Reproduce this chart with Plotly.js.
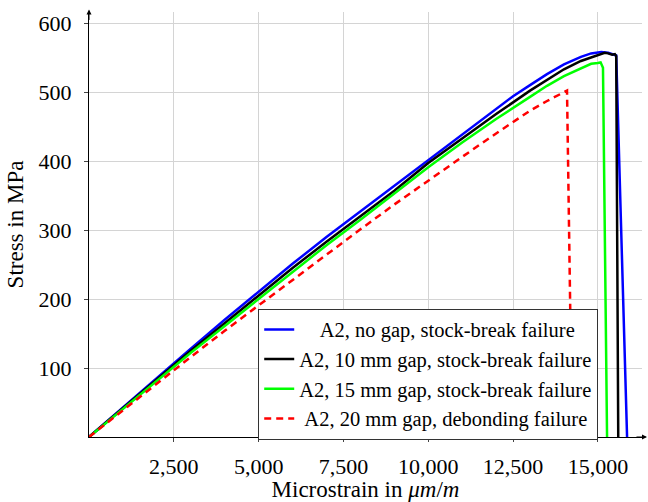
<!DOCTYPE html>
<html>
<head>
<meta charset="utf-8">
<script src="https://cdn.plot.ly/plotly-3.0.1.min.js"></script>
<style>html,body{margin:0;padding:0;background:#fff;}#chart{width:648px;height:502px;}</style>
</head>
<body>
<div id="chart"></div>
<script>
// Microstrain (µm/m) and stress (MPa)
const strainNoGap   = [0, 1000, 2000, 3000, 4000, 5000, 6000, 7000, 8000, 9000, 10000, 11000, 12000, 12500, 13000, 13500, 14000, 14500, 14800, 15100, 15300, 15540, 15860];
const stressNoGap   = [0, 43, 86, 128, 170, 211, 251, 290, 327, 364, 402, 438, 475, 494, 510, 526, 540, 551, 556, 558, 557, 553, 0];

const strain10mm    = [0, 1000, 2000, 3000, 4000, 5000, 6000, 7000, 8000, 9000, 10000, 11000, 12000, 13000, 13500, 14000, 14500, 15000, 15200, 15300, 15420, 15500, 15540, 15600];
const stress10mm    = [0, 42, 84, 125, 165, 205, 245, 283, 320, 357, 397, 433, 468, 502, 518, 533, 545, 554, 557, 556, 554, 555, 552, 0];

const strain15mm    = [0, 1000, 2000, 3000, 4000, 5000, 6000, 7000, 8000, 9000, 10000, 11000, 12000, 13000, 13500, 14000, 14500, 14800, 15000, 15080, 15150, 15270];
const stress15mm    = [0, 41, 82, 122, 161, 200, 239, 278, 315, 353, 391, 427, 461, 493, 509, 523, 534, 541, 542, 543, 535, 0];

const strain20mm    = [0, 1000, 2000, 3000, 4000, 5000, 6000, 7000, 8000, 9000, 10000, 11000, 12000, 13000, 13500, 14000, 14090, 14240];
const stress20mm    = [0, 39, 78, 116, 154, 191, 228, 265, 301, 337, 372, 406, 440, 473, 487, 499, 502, 0];

const seriesNames = [
  "\u00a0\u00a0\u00a0\u00a0A2, no gap, stock-break failure",
  "A2, 10 mm gap, stock-break failure",
  "A2, 15 mm gap, stock-break failure",
  "\u00a0A2, 20 mm gap, debonding failure"
];

const xTickVals = [2500, 5000, 7500, 10000, 12500, 15000];
const xTickText = ["2,500", "5,000", "7,500", "10,000", "12,500", "15,000"];
const yTickVals = [100, 200, 300, 400, 500, 600];
const yTickText = ["100", "200", "300", "400", "500", "600"];

const font = "'Liberation Serif', 'Times New Roman', serif";

const traces = [
  {x: strainNoGap, y: stressNoGap, name: seriesNames[0], mode: "lines", line: {color: "#0000ff", width: 2.5}},
  {x: strain10mm, y: stress10mm, name: seriesNames[1], mode: "lines", line: {color: "#000000", width: 2.5}},
  {x: strain15mm, y: stress15mm, name: seriesNames[2], mode: "lines", line: {color: "#00ff00", width: 2.5}},
  {x: strain20mm, y: stress20mm, name: seriesNames[3], mode: "lines", line: {color: "#ff0000", width: 2.5, dash: "7px,5px"}}
];

const layout = {
  width: 648, height: 502,
  margin: {l: 89, r: 6, t: 12, b: 65},
  paper_bgcolor: "#fff", plot_bgcolor: "#fff",
  font: {family: font, size: 22, color: "#000"},
  showlegend: true,
  legend: {
    x: 0.306, y: 0.302, xanchor: "left", yanchor: "top",
    bgcolor: "#fff", bordercolor: "#333", borderwidth: 1,
    font: {family: font, size: 20.5, color: "#000"},
    tracegroupgap: 0
  },
  xaxis: {
    range: [0, 16300], showgrid: true, gridcolor: "#d4d4d4", gridwidth: 1,
    tickvals: xTickVals, ticktext: xTickText,
    ticks: "outside", ticklen: 4, tickcolor: "#444",
    showline: true, linecolor: "#000", linewidth: 1, zeroline: false,
    ticklabelstandoff: 6,
    title: {text: "Microstrain in <i>μm</i>/<i>m</i>", font: {family: font, size: 23}, standoff: 10}
  },
  yaxis: {
    range: [0, 616], showgrid: true, gridcolor: "#d4d4d4", gridwidth: 1,
    tickvals: yTickVals, ticktext: yTickText,
    ticks: "outside", ticklen: 4, tickcolor: "#444",
    showline: true, linecolor: "#000", linewidth: 1, zeroline: false,
    ticklabelstandoff: 8,
    title: {text: "Stress in MPa", font: {family: font, size: 23}, standoff: 8}
  },
  annotations: [
    {xref: "paper", yref: "paper", x: 1.009, y: 0, ax: -12, ay: 0, text: "", showarrow: true, arrowhead: 2, arrowsize: 1, arrowwidth: 1, arrowcolor: "#000"},
    {xref: "paper", yref: "paper", x: 0, y: 1.006, ax: 0, ay: 12, text: "", showarrow: true, arrowhead: 2, arrowsize: 1, arrowwidth: 1, arrowcolor: "#000"}
  ]
};

Plotly.newPlot("chart", traces, layout, {staticPlot: true, displayModeBar: false});
</script>
</body>
</html>
